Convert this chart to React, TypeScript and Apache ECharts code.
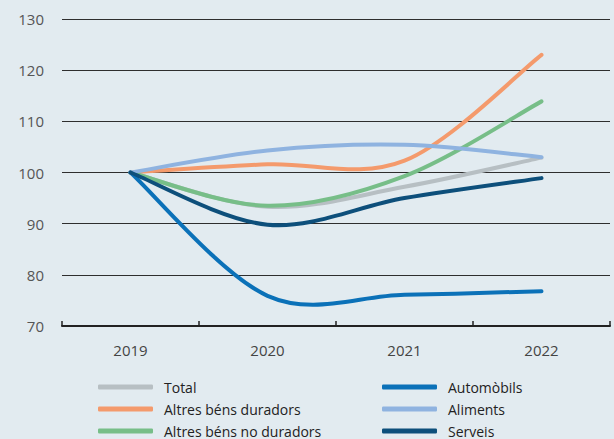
import React, { useEffect, useRef } from "react";
import * as echarts from "echarts";

const years = ["2019", "2020", "2021", "2022"];
const total = [100, 93.3, 97.2, 102.9];
const altresDuradors = [100, 101.6, 102.3, 123];
const altresNoDuradors = [100, 93.5, 99.3, 113.9];
const aliments = [100, 104.3, 105.4, 103];
const automobils = [100, 75.9, 76.1, 76.8];
const serveis = [100, 89.8, 95, 98.9];

const seriesDefs = [
  { name: "Total", data: total, color: "#b7bfc3" },
  { name: "Altres béns duradors", data: altresDuradors, color: "#f49a6c" },
  { name: "Altres béns no duradors", data: altresNoDuradors, color: "#77be88" },
  { name: "Aliments", data: aliments, color: "#8fb3e0" },
  { name: "Automòbils", data: automobils, color: "#0b71b8" },
  { name: "Serveis", data: serveis, color: "#0d4f7b" },
];

const legendLeft = ["Total", "Altres béns duradors", "Altres béns no duradors"];
const legendRight = ["Automòbils", "Aliments", "Serveis"];

function catmullRomPath(pts: number[][]): string {
  if (!pts.length) return "";
  let d = `M${pts[0][0]},${pts[0][1]}`;
  for (let i = 0; i < pts.length - 1; i++) {
    const p0 = pts[i - 1] || pts[i];
    const p1 = pts[i];
    const p2 = pts[i + 1];
    const p3 = pts[i + 2] || p2;
    const c1x = p1[0] + (p2[0] - p0[0]) / 6;
    const c1y = p1[1] + (p2[1] - p0[1]) / 6;
    const c2x = p2[0] - (p3[0] - p1[0]) / 6;
    const c2y = p2[1] - (p3[1] - p1[1]) / 6;
    d += ` C${c1x},${c1y} ${c2x},${c2y} ${p2[0]},${p2[1]}`;
  }
  return d;
}

export default function App() {
  const ref = useRef<HTMLDivElement>(null);
  useEffect(() => {
    if (!ref.current) return;
    const chart = echarts.init(ref.current, undefined, { renderer: "svg" });
    const legendBase = {
      orient: "vertical" as const,
      top: 379,
      itemWidth: 55,
      itemHeight: 5,
      itemGap: 6,
      icon: "roundRect",
      textStyle: {
        fontFamily: "Open Sans",
        fontSize: 14,
        color: "#222",
        lineHeight: 16,
        padding: [0, 0, 0, 6],
      },
      padding: 0,
    };
    chart.setOption({
      animation: false,
      backgroundColor: "#e2ebf0",
      textStyle: { fontFamily: "Open Sans" },
      grid: { left: 62, right: 4, top: 19, bottom: 113, containLabel: false },
      legend: [
        { ...legendBase, left: 98, data: legendLeft },
        { ...legendBase, left: 382, data: legendRight },
      ],
      xAxis: {
        type: "category",
        data: years,
        boundaryGap: true,
        axisLine: { show: true, lineStyle: { color: "#222", width: 2 } },
        axisTick: { show: true, inside: true, length: 5, lineStyle: { color: "#222", width: 1.5 } },
        axisLabel: { fontSize: 15, color: "#444", margin: 16, fontFamily: "Open Sans" },
      },
      yAxis: {
        type: "value",
        min: 70,
        max: 130,
        interval: 10,
        axisLine: { show: false },
        axisTick: { show: false },
        splitLine: { show: true, lineStyle: { color: "#2e2e2e", width: 1 } },
        axisLabel: { fontSize: 15, color: "#555", margin: 18, fontFamily: "Open Sans" },
      },
      series: seriesDefs.map((s) => {
        const points = s.data.map((v, i) => [i, v]);
        return {
          name: s.name,
          type: "custom",
          data: points,
          encode: { x: 0, y: 1 },
          itemStyle: { color: s.color },
          renderItem: (params: any, api: any) => {
            if (params.dataIndex !== 0) return null;
            const px = points.map((p) => api.coord(p));
            return {
              type: "path",
              shape: { pathData: catmullRomPath(px) },
              style: { stroke: s.color, lineWidth: 4, fill: "none", lineCap: "round", lineJoin: "round" },
              silent: true,
            };
          },
        };
      }),
    });
    return () => chart.dispose();
  }, []);
  return <div ref={ref} style={{ width: 614, height: 439, position: "absolute", left: 0, top: 0 }} />;
}
